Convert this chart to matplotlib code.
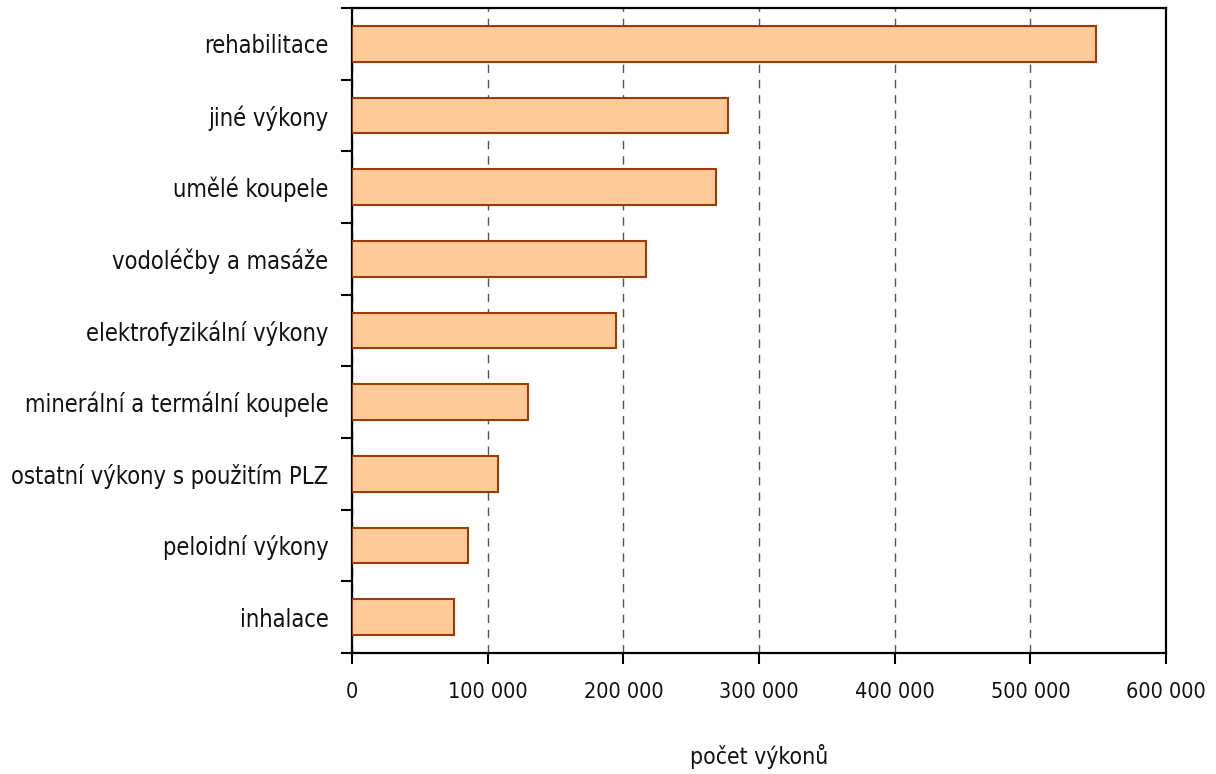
import matplotlib.pyplot as plt
import numpy as np
from matplotlib.ticker import FuncFormatter, FixedLocator

plt.rcParams['font.family'] = ['DejaVu Sans']
plt.rcParams['font.stretch'] = 'condensed'

categories = [
    "rehabilitace",
    "jiné výkony",
    "umělé koupele",
    "vodoléčby a masáže",
    "elektrofyzikální výkony",
    "minerální a termální koupele",
    "ostatní výkony s použitím PLZ",
    "peloidní výkony",
    "inhalace",
]
values = [548500, 277000, 268000, 216500, 194500, 129500, 107500, 85500, 75000]

x_ticks = [0, 100000, 200000, 300000, 400000, 500000, 600000]

fig = plt.figure(figsize=(12.16, 7.74), dpi=100)
ax = fig.add_axes([352 / 1216, 1 - 653 / 774, (1166 - 352) / 1216, (653 - 8) / 774])

y = np.arange(len(categories))
ax.barh(y, values, height=0.5, color="#FFCC99", edgecolor="#9C3A08", linewidth=1.5, zorder=3)

ax.set_ylim(len(categories) - 0.5, -0.5)
ax.set_xlim(0, 600000)

ax.set_yticks(y)
ax.set_yticklabels(categories, fontsize=17, color="#111111")
ax.tick_params(axis="y", which="major", length=0, pad=17)
ax.yaxis.set_minor_locator(FixedLocator(np.arange(-0.5, len(categories), 1.0)))
ax.tick_params(axis="y", which="minor", length=8, width=1.5, direction="out")

ax.set_xticks(x_ticks)
ax.xaxis.set_major_formatter(FuncFormatter(lambda v, p: f"{int(v):,}".replace(",", " ")))
ax.tick_params(axis="x", length=8, width=1.5, direction="out", labelsize=15.5,
               labelcolor="#111111", pad=13)

ax.grid(axis="x", linestyle=(0, (6, 5)), color="#555555", linewidth=1.0, zorder=0)

for s in ax.spines.values():
    s.set_linewidth(1.6)

ax.set_xlabel("počet výkonů", fontsize=16.5, color="#111111", labelpad=30)

fig.savefig("out.png", dpi=100)
